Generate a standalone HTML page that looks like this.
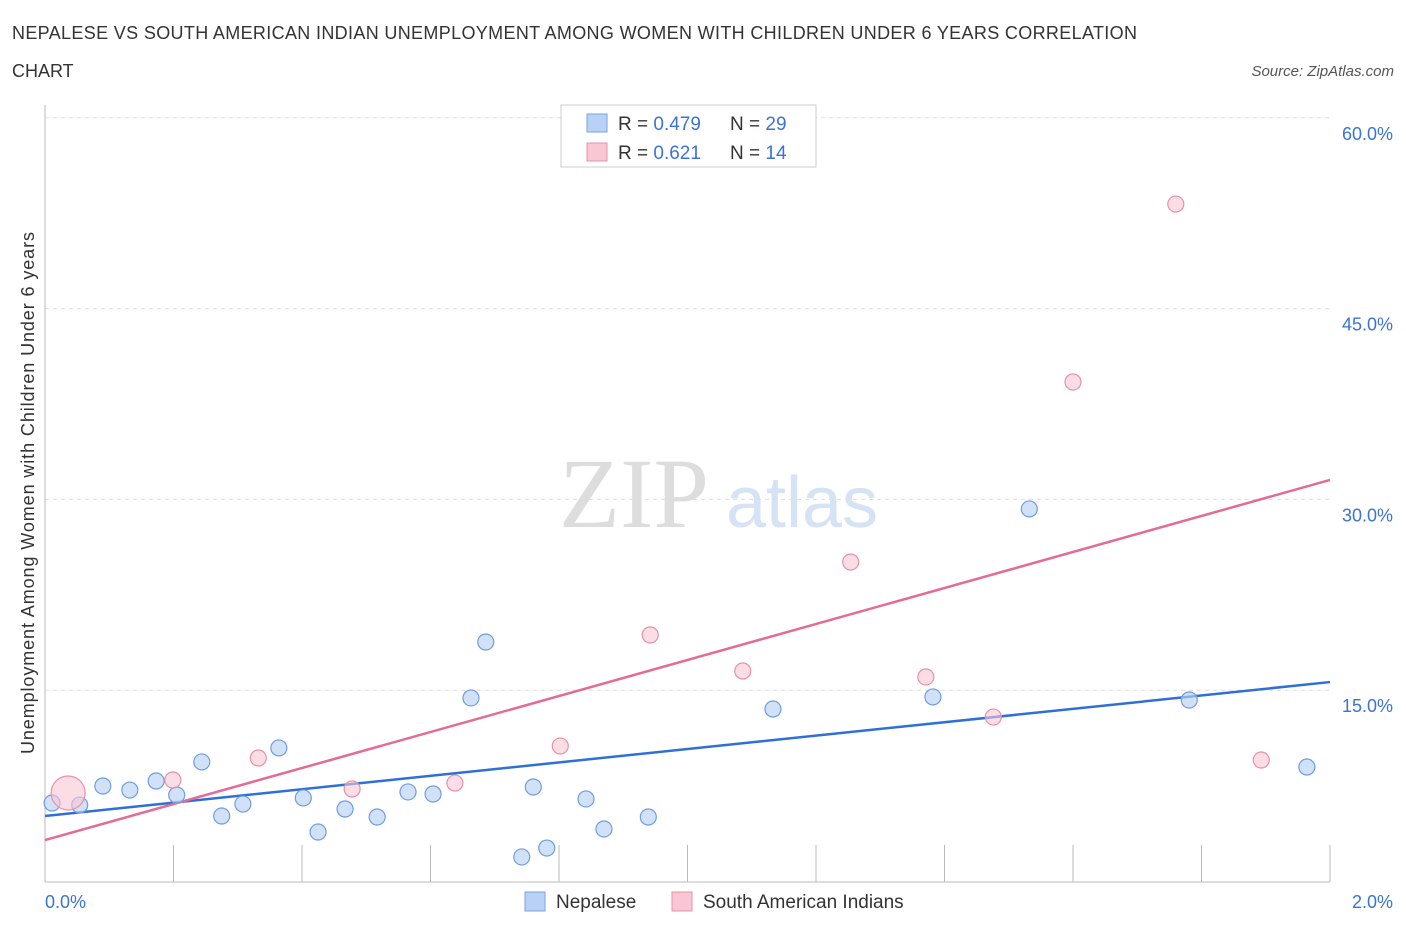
<!DOCTYPE html>
<html><head><meta charset="utf-8"><style>
body{margin:0;background:#fff;font-family:"Liberation Sans",sans-serif;}
</style></head><body>
<svg width="1406" height="930" viewBox="0 0 1406 930" font-family="Liberation Sans, sans-serif">
<text x="12" y="39" font-size="18" fill="#333" textLength="1125">NEPALESE VS SOUTH AMERICAN INDIAN UNEMPLOYMENT AMONG WOMEN WITH CHILDREN UNDER 6 YEARS CORRELATION</text>
<text x="12" y="77" font-size="18" fill="#333">CHART</text>
<text x="1394" y="76" font-size="15" fill="#555" font-style="italic" text-anchor="end">Source: ZipAtlas.com</text>
<text x="634" y="527" font-size="100" fill="#ddd" style="font-family:'Liberation Serif',serif" text-anchor="middle">ZIP</text>
<text x="802" y="527" font-size="72" fill="#d5e3f5" text-anchor="middle">atlas</text>
<g id="grid"></g>
<g id="axes"></g>
<g id="lines"></g>
<g id="points"></g>
<text transform="translate(34,493) rotate(-90)" font-size="18" fill="#333" text-anchor="middle" textLength="522">Unemployment Among Women with Children Under 6 years</text>
<text x="45" y="908" font-size="18" fill="#3b73d6">0.0%</text>
<text x="1393" y="908" font-size="18" fill="#3b73d6" text-anchor="end">2.0%</text>
<g>
<rect x="561" y="105" width="255" height="62" fill="#fff" stroke="#ccc"/>
<rect x="587" y="114" width="20" height="18" fill="#b8d1f5" stroke="#7aa3e0"/>
<rect x="587" y="143" width="20" height="18" fill="#f9c6d4" stroke="#e890aa"/>
<text x="618" y="130" font-size="19" fill="#333">R = <tspan fill="#3b73d6">0.479</tspan></text>
<text x="730" y="130" font-size="19" fill="#333">N = <tspan fill="#3b73d6">29</tspan></text>
<text x="618" y="159" font-size="19" fill="#333">R = <tspan fill="#3b73d6"> 0.621</tspan></text>
<text x="730" y="159" font-size="19" fill="#333">N = <tspan fill="#3b73d6">14</tspan></text>
</g>
<g>
<rect x="525" y="892" width="20" height="19" fill="#b8d1f5" stroke="#7aa3e0"/>
<text x="556" y="908" font-size="19" fill="#333">Nepalese</text>
<rect x="672" y="892" width="20" height="19" fill="#f9c6d4" stroke="#e890aa"/>
<text x="703" y="908" font-size="19" fill="#333">South American Indians</text>
</g>
</svg>
<script>
const blueX=[0.011,0.054,0.090,0.132,0.173,0.205,0.244,0.275,0.308,0.364,0.402,0.425,0.467,0.517,0.565,0.604,0.663,0.686,0.742,0.760,0.781,0.842,0.870,0.939,1.133,1.382,1.532,1.781,1.964];
const blueY=[6.13,5.97,7.47,7.15,7.86,6.76,9.36,5.11,6.05,10.46,6.53,3.85,5.66,5.03,7.00,6.84,14.39,18.79,1.89,7.39,2.59,6.45,4.09,5.03,13.52,14.47,29.25,14.23,8.96];
const pinkX=[0.036,0.199,0.332,0.478,0.638,0.802,0.942,1.086,1.254,1.371,1.476,1.600,1.760,1.893];
const pinkY=[6.92,7.94,9.67,7.23,7.70,10.61,19.34,16.51,25.08,16.04,12.89,39.23,53.22,9.51];
const pinkR=[17,8,8,8,8,8,8,8,8,8,8,8,8,8];
const blueTrend=[5.11,15.64];
const pinkTrend=[3.22,31.53];
const yTicks=[15,30,45,60];
const yTickLabels=["15.0%","30.0%","45.0%","60.0%"];
const xTicks=[0,0.2,0.4,0.6,0.8,1.0,1.2,1.4,1.6,1.8,2.0];
const NS="http://www.w3.org/2000/svg";
const X=v=>45+v/2*1285, Y=v=>881-v*12.72;
function mk(t,a,p){const e=document.createElementNS(NS,t);for(const k in a)e.setAttribute(k,a[k]);document.getElementById(p).appendChild(e);return e;}
yTicks.forEach((v,i)=>{
 const l=mk('line',{x1:45,x2:1330,y1:Y(v),y2:Y(v),stroke:'#ddd','stroke-dasharray':'4,4'},'grid');
 
 
 const t=mk('text',{x:1393,y:Y(v)+22,'font-size':18,fill:'#3b73d6','text-anchor':'end'},'grid');
 t.textContent=yTickLabels[i];
 
 
});
const ya=mk('line',{x1:45,x2:45,y1:105,y2:882,stroke:'#bbb'},'axes');


const xa=mk('line',{x1:45,x2:1330,y1:882,y2:882,stroke:'#bbb'},'axes');


xTicks.forEach(v=>{const t=mk('line',{x1:X(v),x2:X(v),y1:845,y2:882,stroke:'#bbb'},'axes');
 
 });
blueX.forEach((v,i)=>{const c=mk('circle',{cx:X(v),cy:Y(blueY[i]),r:8,fill:'#b8d1f5','fill-opacity':0.65,stroke:'#6f9de0','stroke-width':1.2},'points');
 
 });
pinkX.forEach((v,i)=>{const c=mk('circle',{cx:X(v),cy:Y(pinkY[i]),r:pinkR[i],fill:'#f9c6d4','fill-opacity':0.6,stroke:'#e890aa','stroke-width':1.2},'points');
 
 });
const bl=mk('line',{x1:X(0),x2:X(2),y1:Y(blueTrend[0]),y2:Y(blueTrend[1]),stroke:'#2f6fd6','stroke-width':2.5},'lines');


const pl=mk('line',{x1:X(0),x2:X(2),y1:Y(pinkTrend[0]),y2:Y(pinkTrend[1]),stroke:'#e46c94','stroke-width':2.5},'lines');


</script>
</body></html>
